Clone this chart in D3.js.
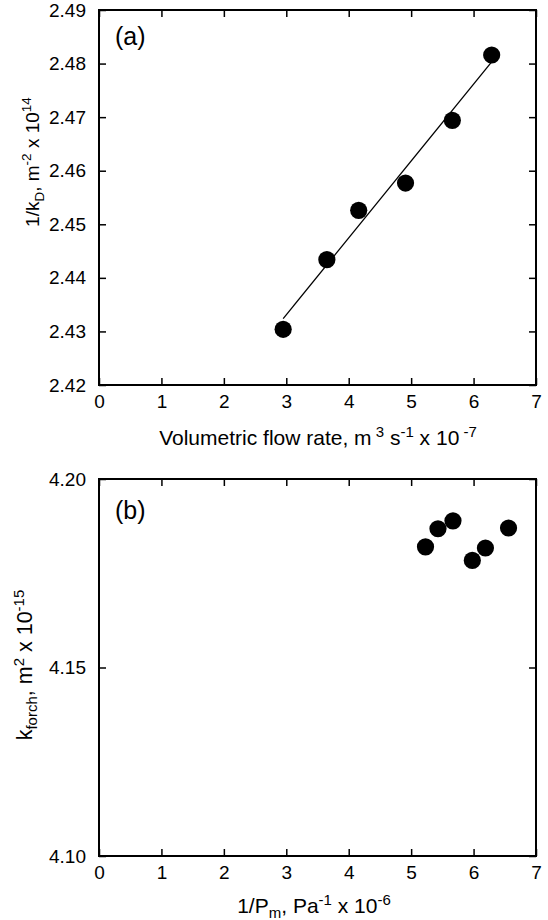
<!DOCTYPE html>
<html>
<head>
<meta charset="utf-8">
<script src="https://cdn.jsdelivr.net/npm/d3@7"></script>
<style>
  body { margin: 0; background: #fff; }
  text { font-family: "Liberation Sans", Arial, sans-serif; fill: #000; }
</style>
</head>
<body>
<div id="chart"></div>
<script>
// panel (a) data
var flowRate = [2.95, 3.65, 4.16, 4.91, 5.66, 6.29];
var invKD = [2.4304, 2.4434, 2.4526, 2.4577, 2.4694, 2.4816];
var fitX = [2.95, 6.29];
var fitY = [2.4324, 2.4803];

// panel (b) data
var invPm = [5.23, 5.43, 5.67, 5.98, 6.19, 6.56];
var kForch = [4.1820, 4.1868, 4.1889, 4.1784, 4.1817, 4.1870];

var xTicks = [0, 1, 2, 3, 4, 5, 6, 7];
var yTicksA = [2.42, 2.43, 2.44, 2.45, 2.46, 2.47, 2.48, 2.49];
var yTicksB = [4.10, 4.15, 4.20];

const WIDTH = 548, HEIGHT = 920;
const LEFT = 99, RIGHT = 536;
const TICK_LEN = 7;

var svg = d3.select("#chart").append("svg")
    .attr("width", WIDTH)
    .attr("height", HEIGHT);

function drawPanel(top, bottom, yDomain, yTicks, yFmt) {
    var x = d3.scaleLinear().domain([0, 7]).range([LEFT, RIGHT]);
    var y = d3.scaleLinear().domain(yDomain).range([bottom, top]);
    var g = svg.append("g");

    // bottom axis, ticks pointing in
    g.append("g")
        .attr("transform", "translate(0," + bottom + ")")
        .call(d3.axisBottom(x).tickValues(xTicks).tickSizeInner(-TICK_LEN).tickSizeOuter(0).tickPadding(10).tickFormat(d3.format("d")))
        .call(s => s.select(".domain").remove())
        .call(s => s.selectAll("text").style("font-size", "19px").attr("dy", "0.71em"));

    // top ticks
    g.append("g")
        .attr("transform", "translate(0," + top + ")")
        .call(d3.axisTop(x).tickValues(xTicks).tickSizeInner(-TICK_LEN).tickSizeOuter(0).tickFormat(""))
        .call(s => s.select(".domain").remove());

    // left axis
    g.append("g")
        .attr("transform", "translate(" + LEFT + ",0)")
        .call(d3.axisLeft(y).tickValues(yTicks).tickSizeInner(-TICK_LEN).tickSizeOuter(0).tickPadding(13).tickFormat(d3.format(yFmt)))
        .call(s => s.select(".domain").remove())
        .call(s => s.selectAll("text").style("font-size", "19px"));

    // right ticks
    g.append("g")
        .attr("transform", "translate(" + RIGHT + ",0)")
        .call(d3.axisRight(y).tickValues(yTicks).tickSizeInner(-TICK_LEN).tickSizeOuter(0).tickFormat(""))
        .call(s => s.select(".domain").remove());

    g.selectAll(".tick line").attr("stroke", "#000").attr("stroke-width", 1.5);

    // frame
    g.append("rect")
        .attr("x", LEFT).attr("y", top)
        .attr("width", RIGHT - LEFT).attr("height", bottom - top)
        .attr("fill", "none").attr("stroke", "#000").attr("stroke-width", 2);

    return { g: g, x: x, y: y };
}

// ---- panel (a)
var pa = drawPanel(10, 385, [2.42, 2.49], yTicksA, ".2f");

pa.g.append("line")
    .attr("x1", pa.x(fitX[0])).attr("y1", pa.y(fitY[0]))
    .attr("x2", pa.x(fitX[1])).attr("y2", pa.y(fitY[1]))
    .attr("stroke", "#000").attr("stroke-width", 1.3);

pa.g.selectAll("circle.pt")
    .data(flowRate)
    .enter().append("circle")
    .attr("class", "pt")
    .attr("cx", d => pa.x(d))
    .attr("cy", (d, i) => pa.y(invKD[i]))
    .attr("r", 8.6)
    .attr("fill", "#000");

pa.g.append("text")
    .attr("x", 115).attr("y", 45)
    .style("font-size", "25px")
    .text("(a)");

// x label (a)
var xa = svg.append("text")
    .attr("x", 318).attr("y", 445)
    .attr("text-anchor", "middle")
    .style("font-size", "21px");
xa.append("tspan").text("Volumetric flow rate, m");
xa.append("tspan").style("font-size", "15px").attr("dy", -8).text(" 3");
xa.append("tspan").attr("dy", 8).text(" s");
xa.append("tspan").style("font-size", "15px").attr("dy", -8).text("-1");
xa.append("tspan").attr("dy", 8).text(" x 10");
xa.append("tspan").style("font-size", "15px").attr("dy", -8).text(" -7");

// y label (a)
var ya = svg.append("text")
    .attr("transform", "translate(39,162) rotate(-90)")
    .attr("text-anchor", "middle")
    .style("font-size", "19px");
ya.append("tspan").text("1/k");
ya.append("tspan").style("font-size", "13.5px").attr("dy", 5).text("D");
ya.append("tspan").attr("dy", -5).text(", m");
ya.append("tspan").style("font-size", "13.5px").attr("dy", -8).text("-2");
ya.append("tspan").attr("dy", 8).text(" x 10");
ya.append("tspan").style("font-size", "13.5px").attr("dy", -8).text("14");

// ---- panel (b)
var pb = drawPanel(479, 856, [4.10, 4.20], yTicksB, ".2f");

pb.g.selectAll("circle.pt")
    .data(invPm)
    .enter().append("circle")
    .attr("class", "pt")
    .attr("cx", d => pb.x(d))
    .attr("cy", (d, i) => pb.y(kForch[i]))
    .attr("r", 8.6)
    .attr("fill", "#000");

pb.g.append("text")
    .attr("x", 115).attr("y", 519)
    .style("font-size", "25px")
    .text("(b)");

// x label (b)
var xb = svg.append("text")
    .attr("x", 314).attr("y", 913)
    .attr("text-anchor", "middle")
    .style("font-size", "21px");
xb.append("tspan").text("1/P");
xb.append("tspan").style("font-size", "15px").attr("dy", 5).text("m");
xb.append("tspan").attr("dy", -5).text(", Pa");
xb.append("tspan").style("font-size", "15px").attr("dy", -8).text("-1");
xb.append("tspan").attr("dy", 8).text(" x 10");
xb.append("tspan").style("font-size", "15px").attr("dy", -8).text("-6");

// y label (b)
var yb = svg.append("text")
    .attr("transform", "translate(32,665) rotate(-90)")
    .attr("text-anchor", "middle")
    .style("font-size", "21.5px");
yb.append("tspan").text("k");
yb.append("tspan").style("font-size", "15px").attr("dy", 5).text("forch");
yb.append("tspan").attr("dy", -5).text(", m");
yb.append("tspan").style("font-size", "15px").attr("dy", -8).text("2");
yb.append("tspan").attr("dy", 8).text(" x 10");
yb.append("tspan").style("font-size", "15px").attr("dy", -8).text("-15");
</script>
</body>
</html>
